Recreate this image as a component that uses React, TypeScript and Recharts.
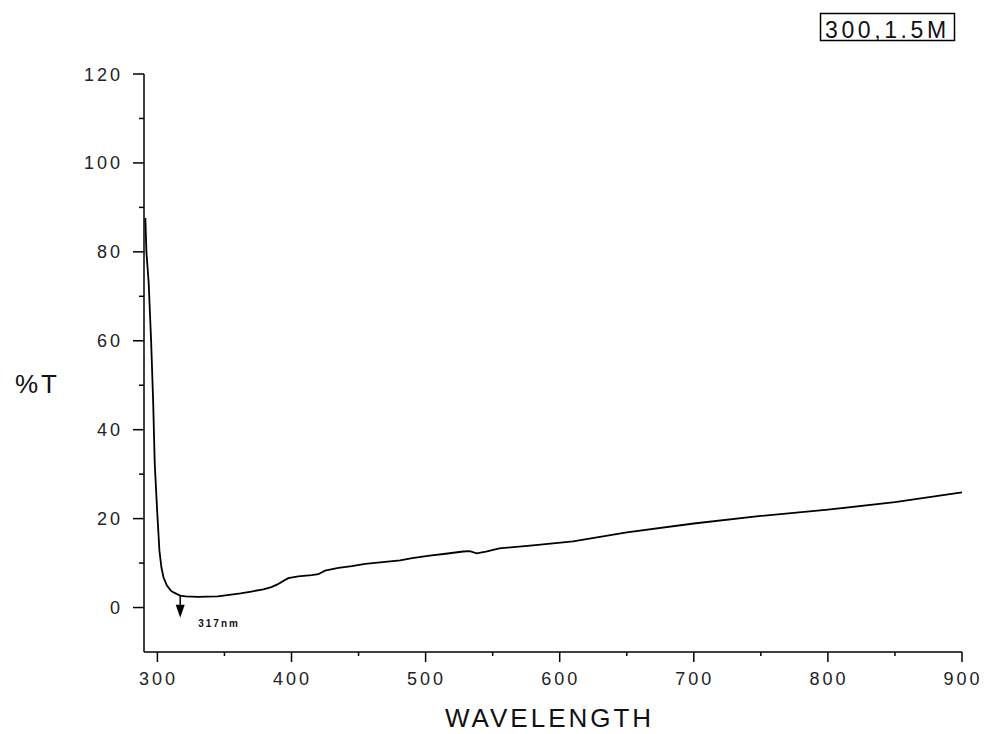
import React from 'react';
import {
  LineChart,
  Line,
  XAxis,
  YAxis,
  ReferenceLine,
  ReferenceDot,
} from 'recharts';

// Transmission spectrum of the 300, 1.5M sample
const wavelength = [
  291, 291.8, 293.5, 295.3, 296.8, 298, 299.8, 301.5, 303, 304.5, 307, 310, 312,
  317, 321, 330, 345, 355, 362, 370, 379, 385, 389.5, 394, 397.6, 405, 415, 420,
  425, 435, 445, 455, 468, 481, 490, 503, 515, 528, 533, 538, 545, 555, 580, 610,
  650, 700, 750, 800, 850, 900,
];
const transmittance = [
  87.6, 80, 73, 60, 46.6, 32.4, 21.8, 12.8, 9, 6.8, 5, 3.8, 3.4,
  2.7, 2.5, 2.4, 2.5, 2.9, 3.2, 3.6, 4.1, 4.6, 5.2, 6.0, 6.6, 7.0, 7.3, 7.5,
  8.3, 8.9, 9.3, 9.8, 10.2, 10.6, 11.1, 11.7, 12.1, 12.6, 12.7, 12.2, 12.6, 13.3, 14.0, 14.9,
  16.9, 18.9, 20.6, 22.0, 23.7, 25.9,
];

const xTicks = [300, 350, 400, 450, 500, 550, 600, 650, 700, 750, 800, 850, 900];
const xMajor = [300, 400, 500, 600, 700, 800, 900];
const yTicks = [0, 10, 20, 30, 40, 50, 60, 70, 80, 90, 100, 110, 120];
const yMajor = [0, 20, 40, 60, 80, 100, 120];

const peakWavelength = 317;
const peakLabel = '317nm';
const sampleLabel = '300,1.5M';
const xTitle = 'WAVELENGTH';
const yTitle = '%T';

const data = wavelength.map((w, i) => ({ w, t: transmittance[i] }));

const FONT = '"Liberation Sans", Arial, sans-serif';

const YTick = (props: any) => {
  const { x, y, payload } = props;
  const major = yMajor.includes(payload.value);
  return (
    <g>
      <line x1={x} x2={x - (major ? 11 : 5)} y1={y} y2={y} stroke="#000" strokeWidth={1.5} />
      {major && (
        <text
          x={x - 21}
          y={y + 6.5}
          textAnchor="end"
          fontFamily={FONT}
          fontSize={18}
          letterSpacing={3}
          fill="#222"
        >
          {payload.value}
        </text>
      )}
    </g>
  );
};

const XTick = (props: any) => {
  const { x, y, payload } = props;
  const major = xMajor.includes(payload.value);
  return (
    <g>
      <line x1={x} x2={x} y1={y} y2={y + (major ? 10 : 4)} stroke="#000" strokeWidth={1.5} />
      {major && (
        <text
          x={x + 1}
          y={y + 33}
          textAnchor="middle"
          fontFamily={FONT}
          fontSize={18}
          letterSpacing={3}
          fill="#222"
        >
          {payload.value}
        </text>
      )}
    </g>
  );
};

const ArrowHead = (props: any) => {
  const { cx, cy } = props;
  return <path d={`M${cx - 4.5},${cy - 13} L${cx + 4.5},${cy - 13} L${cx},${cy} Z`} fill="#000" />;
};

const PeakText = (props: any) => {
  const { cx, cy } = props;
  return (
    <text
      x={cx}
      y={cy + 4}
      textAnchor="middle"
      fontFamily={FONT}
      fontSize={10}
      fontWeight="bold"
      letterSpacing={2}
      fill="#111"
    >
      {peakLabel}
    </text>
  );
};

export default function App() {
  return (
    <div style={{ position: 'absolute', left: 0, top: 0, width: 984, height: 734, background: '#fff' }}>
      <LineChart
        width={984}
        height={734}
        data={data}
        margin={{ top: 74, right: 22, bottom: 52, left: 84 }}
      >
        <XAxis
          type="number"
          dataKey="w"
          domain={[290, 900]}
          ticks={xTicks}
          interval={0}
          allowDataOverflow
          height={30}
          tickSize={0}
          tickMargin={0}
          tickLine={false}
          axisLine={{ stroke: '#000', strokeWidth: 1.5 }}
          tick={<XTick />}
        />
        <YAxis
          type="number"
          domain={[-10, 120]}
          ticks={yTicks}
          interval={0}
          allowDataOverflow
          width={60}
          tickSize={0}
          tickMargin={0}
          tickLine={false}
          axisLine={{ stroke: '#000', strokeWidth: 1.5 }}
          tick={<YTick />}
        />
        <Line
          type="linear"
          dataKey="t"
          stroke="#000"
          strokeWidth={1.8}
          dot={false}
          isAnimationActive={false}
        />
        <ReferenceLine
          segment={[
            { x: peakWavelength, y: 2.6 },
            { x: peakWavelength, y: -0.5 },
          ]}
          stroke="#000"
          strokeWidth={1.5}
        />
        <ReferenceDot x={peakWavelength} y={-2.3} shape={<ArrowHead />} />
        <ReferenceDot x={346} y={-3.4} shape={<PeakText />} />
      </LineChart>
      <svg
        width={984}
        height={734}
        style={{ position: 'absolute', left: 0, top: 0, pointerEvents: 'none' }}
      >
        <rect x={820.5} y={13.5} width={134} height={27} fill="none" stroke="#000" strokeWidth={1.5} />
        <text x={825} y={37.5} fontFamily={FONT} fontSize={23} letterSpacing={3.6} fill="#111">
          {sampleLabel}
        </text>
        <text x={15} y={393} fontFamily={FONT} fontSize={26} letterSpacing={3} fill="#111">
          {yTitle}
        </text>
        <text x={445} y={727} fontFamily={FONT} fontSize={26} letterSpacing={3} fill="#111">
          {xTitle}
        </text>
      </svg>
    </div>
  );
}
